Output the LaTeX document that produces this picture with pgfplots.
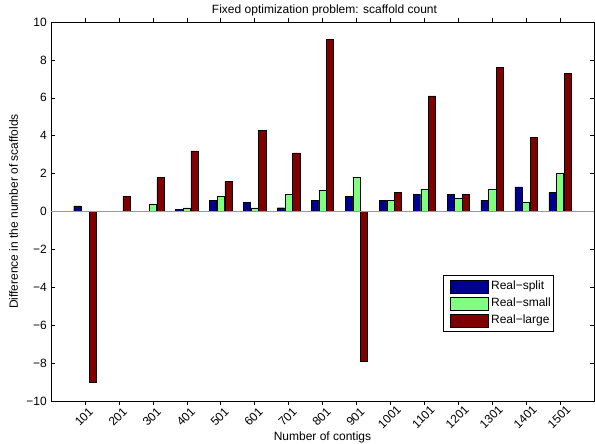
\documentclass[border=0pt]{standalone}
\usepackage{pgfplots}
\pgfplotsset{compat=1.18}
\usepackage{fontspec}
\setmainfont{Liberation Sans}
\definecolor{mblue}{RGB}{0,0,143}
\definecolor{mgreen}{RGB}{128,255,128}
\definecolor{mred}{RGB}{128,0,0}
\begin{document}
\fontsize{12}{14.4}\selectfont
\begin{tikzpicture}
  \begin{axis}[
      scale only axis,
      width=543pt, height=379pt,
      xmin=0, xmax=16,
      ymin=-10, ymax=10,
      xtick={1,...,15},
      xticklabels={101,201,301,401,501,601,701,801,901,1001,1101,1201,1301,1401,1501},
      xticklabel style={xshift=-1pt, yshift=-12pt, rotate=45, anchor=center},
      ytick={-10,-8,...,10},
      yticklabels={−10,−8,−6,−4,−2,0,2,4,6,8,10},
      tick align=inside,
      major tick length=4pt,
      tick style={black, thin},
      /pgf/number format/assume math mode=true,
      title={Fixed optimization problem: scaffold count},
      title style={at={(axis description cs:0.5,1)}, anchor=center, yshift=6pt, xshift=2pt},
      xlabel={Number of contigs},
      ylabel={Difference in the number of scaffolds},
      xlabel style={at={(axis description cs:0.5,0)}, anchor=center, yshift=-36pt},
      ylabel style={at={(axis description cs:-0.0691,0.5)}, anchor=center},
      ybar,
      bar width=0.21,
      legend style={at={(0.722,0.3325)}, anchor=north west, draw=black,
        cells={anchor=west}, inner xsep=0pt, inner ysep=3.5pt, row sep=1.5pt,
        nodes={inner sep=2.5pt}},
      legend image code/.code={\path (0pt,0pt) (45pt,0pt);
        \draw[#1] (7pt,-6.3pt) rectangle (45pt,6.3pt);},
    ]
    % Real-split
    \addplot[fill=mblue, draw=black, bar shift=-0.225] coordinates {
      (1,0.3) (2,0.02) (3,0.02) (4,0.1) (5,0.6) (6,0.5) (7,0.2) (8,0.6)
      (9,0.8) (10,0.6) (11,0.9) (12,0.9) (13,0.6) (14,1.3) (15,1.0)
    };
    % Real-small
    \addplot[fill=mgreen, draw=black, bar shift=0] coordinates {
      (1,0.0) (2,0.02) (3,0.4) (4,0.2) (5,0.8) (6,0.2) (7,0.9) (8,1.1)
      (9,1.8) (10,0.6) (11,1.2) (12,0.7) (13,1.2) (14,0.5) (15,2.0)
    };
    % Real-large
    \addplot[fill=mred, draw=black, bar shift=0.225] coordinates {
      (1,-9.0) (2,0.8) (3,1.8) (4,3.2) (5,1.6) (6,4.3) (7,3.1) (8,9.1)
      (9,-7.9) (10,1.0) (11,6.1) (12,0.9) (13,7.6) (14,3.9) (15,7.3)
    };
    \legend{Real−split, Real−small, Real−large}
    % baseline
    \draw[gray!80] (axis cs:0,0) -- (axis cs:16,0);
    \coordinate (sw) at (rel axis cs:0,0);
    \coordinate (ne) at (rel axis cs:1,1);
  \end{axis}
  \pgfresetboundingbox
  \path[use as bounding box] ([shift={(-51pt,-43pt)}]sw)
    rectangle ([shift={(1pt,22pt)}]ne);
\end{tikzpicture}
\end{document}
